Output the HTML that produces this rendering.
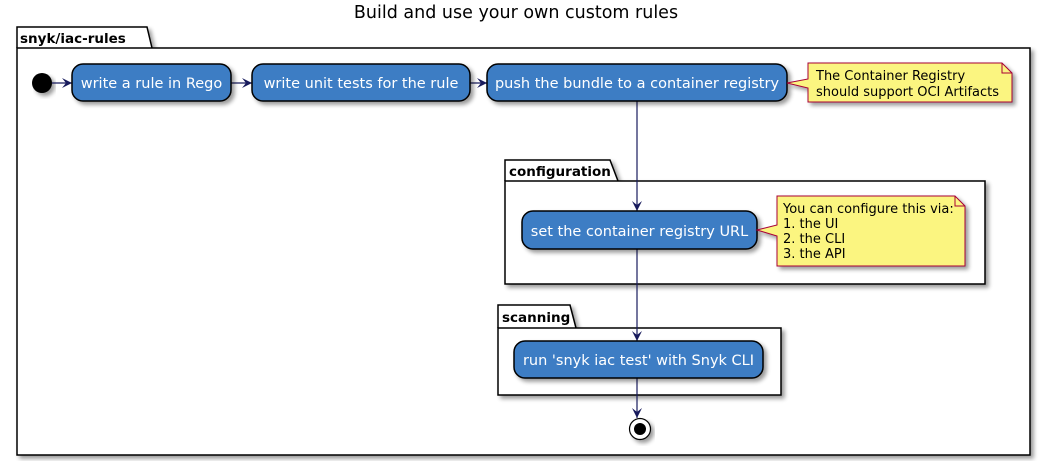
<!DOCTYPE html>
<html><head><meta charset="utf-8"><style>
html,body{margin:0;padding:0;background:#fff;}
svg{display:block;font-family:"DejaVu Sans","Liberation Sans",sans-serif;}
</style></head><body>
<svg width="1044" height="461" viewBox="0 0 1044 461" xmlns="http://www.w3.org/2000/svg">
<defs>
<filter id="sh" x="-10%" y="-10%" width="130%" height="140%"><feGaussianBlur in="SourceAlpha" stdDeviation="2"/><feOffset dx="3" dy="3"/><feComponentTransfer><feFuncA type="linear" slope="0.4"/></feComponentTransfer><feMerge><feMergeNode/><feMergeNode in="SourceGraphic"/></feMerge></filter>
<marker id="ar" markerWidth="12" markerHeight="10" refX="10" refY="5" orient="auto" markerUnits="userSpaceOnUse"><path d="M0,0 L10,5 L0,10 L4,5 Z" fill="#181b5d"/></marker>
</defs>
<text x="516" y="18" text-anchor="middle" font-size="17.5" fill="#000">Build and use your own custom rules</text>

<g filter="url(#sh)">
<path d="M17,48 L17,27 L147,27 L152,48" fill="#fff" stroke="#000" stroke-width="1.5"/>
<rect x="17" y="48" width="1013" height="407" fill="#fff" stroke="#000" stroke-width="1.5"/>
</g>
<text x="20" y="43" font-size="13.5" font-weight="bold">snyk/iac-rules</text>

<g filter="url(#sh)">
<path d="M505,181 L505,160 L610,160 L618,181" fill="#fff" stroke="#000" stroke-width="1.5"/>
<rect x="505" y="181" width="480" height="103" fill="#fff" stroke="#000" stroke-width="1.5"/>
</g>
<text x="509" y="176" font-size="13.5" font-weight="bold">configuration</text>

<g filter="url(#sh)">
<path d="M498,328 L498,305 L570,305 L576,328" fill="#fff" stroke="#000" stroke-width="1.5"/>
<rect x="498" y="328" width="283" height="67" fill="#fff" stroke="#000" stroke-width="1.5"/>
</g>
<text x="502" y="322" font-size="13.5" font-weight="bold">scanning</text>

<circle cx="42" cy="83" r="10" fill="#000" filter="url(#sh)"/>

<g stroke="#181b5d" stroke-width="1.2" fill="none">
<line x1="52" y1="83" x2="72" y2="83" marker-end="url(#ar)"/>
<line x1="231" y1="83" x2="252" y2="83" marker-end="url(#ar)"/>
<line x1="470" y1="83" x2="487" y2="83" marker-end="url(#ar)"/>
<line x1="637" y1="101" x2="637" y2="211" marker-end="url(#ar)"/>
<line x1="637" y1="249" x2="637" y2="341" marker-end="url(#ar)"/>
<line x1="637" y1="378" x2="637" y2="418" marker-end="url(#ar)"/>
</g>

<g fill="#3e7dc4" stroke="#000" stroke-width="1.5" filter="url(#sh)">
<rect x="72" y="64" width="159" height="37" rx="11"/>
<rect x="252" y="64" width="218" height="37" rx="11"/>
<rect x="487" y="64" width="300" height="37" rx="11"/>
<rect x="522" y="211" width="235" height="38" rx="11"/>
<rect x="514" y="341" width="249" height="37" rx="11"/>
</g>
<g fill="#fff" font-size="14.5" text-anchor="middle">
<text x="151.5" y="88">write a rule in Rego</text>
<text x="361" y="88">write unit tests for the rule</text>
<text x="637" y="88">push the bundle to a container registry</text>
<text x="639.5" y="236">set the container registry URL</text>
<text x="638.5" y="365">run 'snyk iac test' with Snyk CLI</text>
</g>

<g filter="url(#sh)" fill="#fbf580" stroke="#a80036" stroke-width="1">
<path d="M787,83 L808,79 L808,63 L1002,63 L1012,73 L1012,102 L808,102 L808,88 Z"/>
<path d="M757,230 L777,225 L777,196 L955,196 L965,206 L965,266 L777,266 L777,236 Z"/>
</g>
<g fill="none" stroke="#a80036" stroke-width="1">
<path d="M1002,63 L1002,73 L1012,73"/>
<path d="M955,196 L955,206 L965,206"/>
</g>
<g font-size="13" fill="#000">
<text x="816" y="80">The Container Registry</text>
<text x="816" y="96">should support OCI Artifacts</text>
<text x="783" y="213">You can configure this via:</text>
<text x="783" y="228">1. the UI</text>
<text x="783" y="243">2. the CLI</text>
<text x="783" y="258">3. the API</text>
</g>

<g filter="url(#sh)">
<circle cx="640" cy="429" r="10.5" fill="#fff" stroke="#000" stroke-width="1.2"/>
</g>
<circle cx="640" cy="429" r="6" fill="#000"/>
</svg>
</body></html>
